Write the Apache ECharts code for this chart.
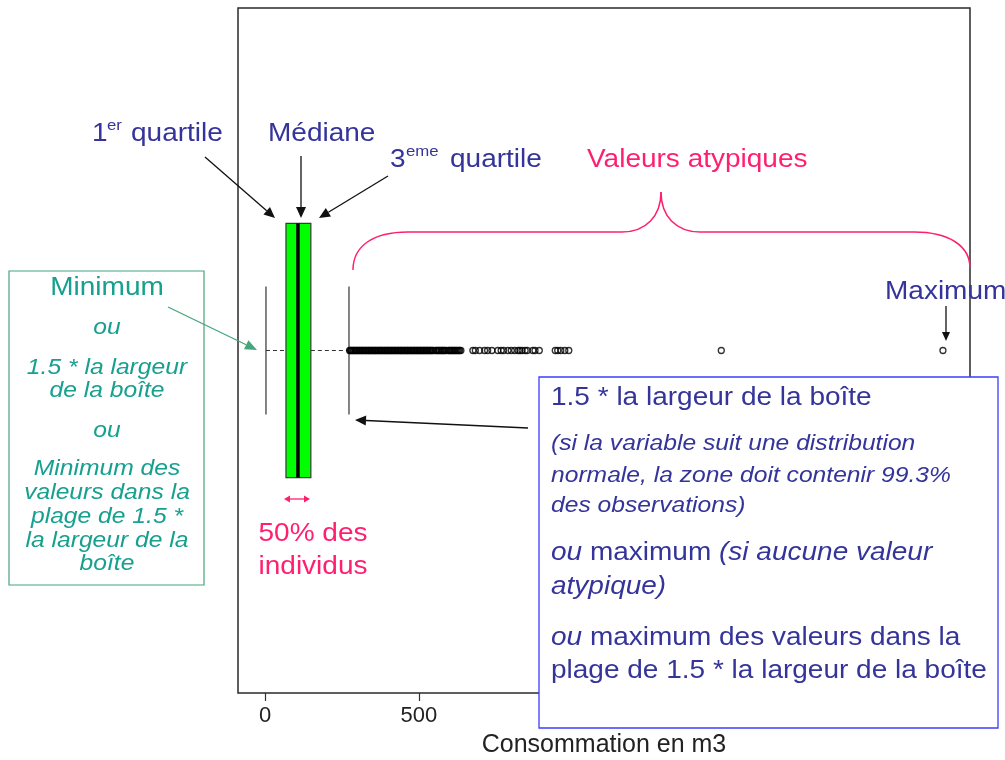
<!DOCTYPE html>
<html>
<head>
<meta charset="utf-8">
<title>Boîte à moustaches - Consommation en m3</title>
<script src="https://cdn.jsdelivr.net/npm/echarts@6/dist/echarts.min.js"></script>
<style>
  html, body { margin: 0; padding: 0; background: #fff; }
  #chart { width: 1005px; height: 760px; }
</style>
</head>
<body>
<div id="chart"></div>
<script>
// statistiques de la boîte (m3) : moustache basse, Q1, médiane, Q3, moustache haute
const boxStats = [3, 68, 107, 149, 273];
// valeurs atypiques (m3)
const outliers = [
  275, 277, 280, 283, 287, 289, 292, 296, 298, 301, 305, 307, 310, 314, 316, 319,
  322, 326, 328, 331, 335, 337, 340, 343, 347, 349, 352, 356, 358, 361, 364, 368,
  370, 373, 377, 379, 382, 385, 389, 391, 394, 398, 400, 403, 406, 410, 412, 415,
  419, 421, 424, 427, 431, 433, 436, 440, 442, 445, 448, 452, 454, 457, 461, 463,
  466, 469, 473, 475, 478, 482, 484, 487, 490, 494, 496, 499, 503, 505, 508, 511,
  515, 517, 520, 524, 526, 529, 532, 536, 538, 541, 545, 548,
  555, 558, 562, 565, 568, 572, 575, 578, 582, 585, 589,
  596, 599, 602, 606, 609, 612, 616, 619, 623, 626, 630, 633, 637,
  676, 684, 698, 714, 724, 738, 757, 768, 776, 790, 801, 812, 823, 829, 836, 846,
  853, 871, 878, 892, 944, 952, 962, 975, 988, 1484, 2205
];
const xTicks = [0, 500];
const xMin = -88;
const xMax = 2293;

const FONT = '"Liberation Sans", Arial, sans-serif';
const SX = 1.12; // le texte de la diapo est un peu étiré en largeur
const BLUE = '#34349a';
const TEAL = '#17a08f';
const PINK = '#ff1f6f';
const GREENLINE = '#45a57c';

const chartDom = document.getElementById('chart');
const myChart = echarts.init(chartDom);

// flèche : trait + pointe pleine
function arrow(x1, y1, x2, y2, color, len, half) {
  len = len || 11;
  half = half || 5;
  const a = Math.atan2(y2 - y1, x2 - x1);
  const bx = x2 - len * Math.cos(a), by = y2 - len * Math.sin(a);
  const nx = half * Math.sin(a), ny = half * Math.cos(a);
  return [
    { type: 'line', shape: { x1: x1, y1: y1, x2: bx, y2: by }, style: { stroke: color, lineWidth: 1.3 } },
    { type: 'polygon', shape: { points: [[x2, y2], [bx + nx, by - ny], [bx - nx, by + ny]] }, style: { fill: color } }
  ];
}

function txt(x, y, text, size, color, opts) {
  opts = opts || {};
  const align = opts.align || 'left';
  return {
    type: 'text',
    x: x, y: y,
    scaleX: SX,
    style: {
      text: text,
      fontSize: size,
      fontFamily: FONT,
      fontStyle: opts.italic ? 'italic' : 'normal',
      fill: color,
      align: align, textAlign: align,
      verticalAlign: 'middle', textVerticalAlign: 'middle',
      rich: opts.rich
    }
  };
}

function curve(x1, y1, c1x, c1y, c2x, c2y, x2, y2) {
  return {
    type: 'bezierCurve',
    shape: { x1: x1, y1: y1, cpx1: c1x, cpy1: c1y, cpx2: c2x, cpy2: c2y, x2: x2, y2: y2 },
    style: { fill: null, stroke: PINK, lineWidth: 1.5 }
  };
}

function seg(x1, y1, x2, y2, color, w) {
  return { type: 'line', shape: { x1: x1, y1: y1, x2: x2, y2: y2 }, style: { stroke: color, lineWidth: w } };
}

const richI = {
  i: { fontStyle: 'italic', fontSize: 25, fontFamily: FONT, fill: BLUE },
  n: { fontStyle: 'normal', fontSize: 25, fontFamily: FONT, fill: BLUE }
};

let elements = [];

// étiquettes du haut
elements.push(txt(92, 134, '1', 25, BLUE));
elements.push(txt(107, 126, 'er', 15, BLUE));
elements.push(txt(131, 134, 'quartile', 25, BLUE));
elements.push(txt(268, 134, 'Médiane', 25, BLUE));
elements.push(txt(390, 160, '3', 25, BLUE));
elements.push(txt(406, 152, 'eme', 15, BLUE));
elements.push(txt(450, 160, 'quartile', 25, BLUE));
elements.push(txt(587, 160, 'Valeurs atypiques', 25, PINK));
elements = elements.concat(arrow(205, 157, 275, 218, '#111'));
elements = elements.concat(arrow(301, 156, 301, 218, '#111'));
elements = elements.concat(arrow(388, 176, 319, 218, '#111'));

// accolade des valeurs atypiques
elements.push(curve(353, 270, 353, 246, 373, 232, 408, 232));
elements.push(seg(408, 232, 622, 232, PINK, 1.5));
elements.push(curve(622, 232, 646, 232, 661, 216, 661, 192));
elements.push(curve(661, 192, 661, 216, 676, 232, 700, 232));
elements.push(seg(700, 232, 914, 232, PINK, 1.5));
elements.push(curve(914, 232, 949, 232, 970, 246, 970, 268));

// maximum
elements.push(txt(885, 292, 'Maximum', 25, BLUE));
elements = elements.concat(arrow(946, 306, 946, 341, '#111', 9, 4));

// encadré minimum
elements.push({
  type: 'rect',
  shape: { x: 9, y: 271, width: 195, height: 314 },
  style: { fill: '#fff', stroke: GREENLINE, lineWidth: 1.2 }
});
elements.push(txt(107, 288, 'Minimum', 25, TEAL, { align: 'center' }));
elements.push(txt(107, 328, 'ou', 22, TEAL, { align: 'center', italic: true }));
elements.push(txt(107, 368, '1.5 * la largeur', 22, TEAL, { align: 'center', italic: true }));
elements.push(txt(107, 391, 'de la boîte', 22, TEAL, { align: 'center', italic: true }));
elements.push(txt(107, 431, 'ou', 22, TEAL, { align: 'center', italic: true }));
elements.push(txt(107, 469, 'Minimum des', 22, TEAL, { align: 'center', italic: true }));
elements.push(txt(107, 493, 'valeurs dans la', 22, TEAL, { align: 'center', italic: true }));
elements.push(txt(107, 517, 'plage de 1.5 *', 22, TEAL, { align: 'center', italic: true }));
elements.push(txt(107, 541, 'la largeur de la', 22, TEAL, { align: 'center', italic: true }));
elements.push(txt(107, 564, 'boîte', 22, TEAL, { align: 'center', italic: true }));
elements = elements.concat(arrow(168, 307, 257, 350, GREENLINE, 12, 5));

// 50% des individus
elements = elements.concat(arrow(297, 499, 310, 499, PINK, 6, 3.5));
elements = elements.concat(arrow(297, 499, 284, 499, PINK, 6, 3.5));
elements.push(txt(313, 534, '50% des', 25, PINK, { align: 'center' }));
elements.push(txt(313, 567, 'individus', 25, PINK, { align: 'center' }));

// encadré de droite
elements.push({
  type: 'rect',
  shape: { x: 539, y: 377, width: 459, height: 351 },
  style: { fill: '#fff', stroke: '#3d3dff', lineWidth: 1.3 }
});
elements.push(txt(551, 398, '1.5 * la largeur de la boîte', 25, BLUE));
elements.push(txt(551, 444, '(si la variable suit une distribution', 22, BLUE, { italic: true }));
elements.push(txt(551, 476, 'normale, la zone doit contenir 99.3%', 22, BLUE, { italic: true }));
elements.push(txt(551, 506, 'des observations)', 22, BLUE, { italic: true }));
elements.push(txt(551, 553, '{i|ou} {n|maximum} {i|(si aucune valeur}', 25, BLUE, { rich: richI }));
elements.push(txt(551, 587, 'atypique)', 25, BLUE, { italic: true }));
elements.push(txt(551, 638, '{i|ou} {n|maximum des valeurs dans la}', 25, BLUE, { rich: richI }));
elements.push(txt(551, 671, 'plage de 1.5 * la largeur de la boîte', 25, BLUE));
elements = elements.concat(arrow(528, 428, 355, 420, '#111', 11, 5));

elements.forEach(function (e) { e.z = 100; });

const BOX_HALF = 0.371;
const CAP_HALF = 0.187;

const option = {
  animation: false,
  backgroundColor: '#fff',
  grid: {
    left: 238, right: 35, top: 8, bottom: 67,
    outerBoundsMode: 'none',
    containLabel: false,
    show: true,
    borderColor: '#2a2a2a',
    borderWidth: 1.5,
    backgroundColor: 'transparent'
  },
  xAxis: {
    type: 'value',
    min: xMin,
    max: xMax,
    name: 'Consommation en m3',
    nameLocation: 'middle',
    nameGap: 40,
    nameTextStyle: { fontSize: 25, fontFamily: FONT, color: '#222' },
    axisLine: { show: false },
    splitLine: { show: false },
    axisTick: { show: true, length: 8, customValues: xTicks, lineStyle: { color: '#333', width: 1.2 } },
    axisLabel: { customValues: xTicks, fontSize: 22, fontFamily: FONT, color: '#222', margin: 12 }
  },
  yAxis: {
    type: 'value',
    min: 0,
    max: 2,
    show: false
  },
  series: [
    {
      type: 'custom',
      data: [boxStats.concat([1])],
      encode: { x: [0, 1, 2, 3, 4], y: 5 },
      renderItem: function (params, api) {
        const y = api.value(5);
        const pt = function (i, dy) { return api.coord([api.value(i), y + dy]); };
        const lo = pt(0, 0), q1 = pt(1, 0), med = pt(2, 0), q3 = pt(3, 0), hi = pt(4, 0);
        const boxTop = pt(1, BOX_HALF)[1], boxBot = pt(1, -BOX_HALF)[1];
        const capTop = pt(0, CAP_HALF)[1], capBot = pt(0, -CAP_HALF)[1];
        const dash = { stroke: '#333', lineWidth: 1.2, lineDash: [4, 3] };
        const solid = { stroke: '#333', lineWidth: 1.2 };
        return {
          type: 'group',
          children: [
            { type: 'line', shape: { x1: lo[0], y1: lo[1], x2: q1[0], y2: q1[1] }, style: dash },
            { type: 'line', shape: { x1: q3[0], y1: q3[1], x2: hi[0], y2: hi[1] }, style: dash },
            { type: 'line', shape: { x1: lo[0], y1: capTop, x2: lo[0], y2: capBot }, style: solid },
            { type: 'line', shape: { x1: hi[0], y1: capTop, x2: hi[0], y2: capBot }, style: solid },
            { type: 'rect', shape: { x: q1[0], y: boxTop, width: q3[0] - q1[0], height: boxBot - boxTop },
              style: { fill: '#00ff00', stroke: '#3a3a3a', lineWidth: 1.2 } },
            { type: 'line', shape: { x1: med[0], y1: boxTop, x2: med[0], y2: boxBot },
              style: { stroke: '#000', lineWidth: 3.5 } }
          ]
        };
      }
    },
    {
      type: 'scatter',
      data: outliers.map(function (v) { return [v, 1]; }),
      symbol: 'circle',
      symbolSize: 6,
      itemStyle: { color: 'rgba(0,0,0,0)', borderColor: '#000', borderWidth: 1.3 },
      z: 3
    }
  ],
  graphic: { elements: elements }
};

myChart.setOption(option);
</script>
</body>
</html>
